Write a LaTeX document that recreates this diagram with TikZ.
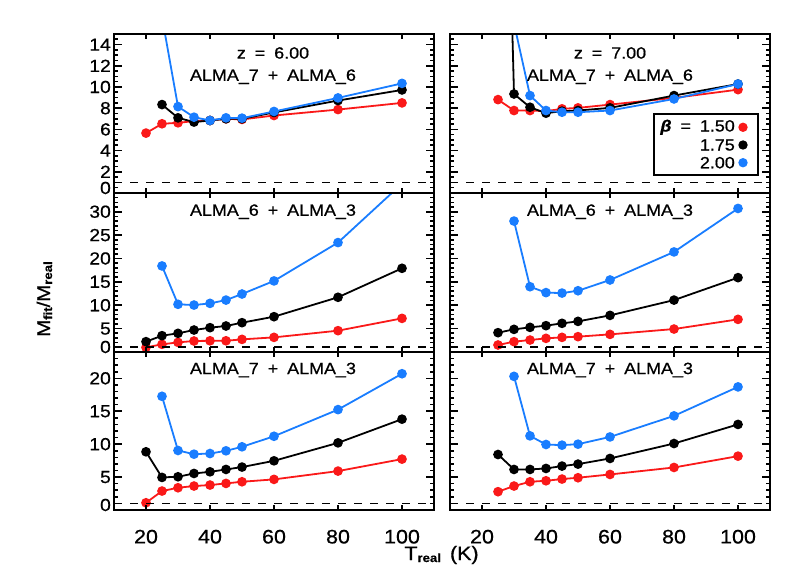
\documentclass[tikz,border=0pt]{standalone}
\usepackage{fontspec}
\setmainfont{Liberation Sans}
\newfontfamily\idlfont[FakeStretch=1.1,WordSpace=1.8,FakeBold=0.7]{Liberation Sans}

\definecolor{idlred}{RGB}{250,25,25}
\definecolor{idlblue}{RGB}{25,125,255}

\newcommand{\sublow}[1]{\raisebox{-2pt}{\fontsize{12}{12}\selectfont\bfseries #1}}

% frame, ticks and unity line of one panel: ymax, major list, minor step
\newcommand{\panelaxes}[3]{%
  \foreach \t in {20,40,...,100} {
    \draw[tick] (\t,0) -- ++(0,5pt);
    \draw[tick] (\t,#1) -- ++(0,-5pt);
  }
  \foreach \v in {0,#3,...,#1} {
    \draw[tick] (10,\v) -- ++(4pt,0);
    \draw[tick] (110,\v) -- ++(-4pt,0);
  }
  \foreach \v in {#2} {
    \draw[tick] (10,\v) -- ++(8pt,0);
    \draw[tick] (110,\v) -- ++(-8pt,0);
  }
  \draw[unity] (10,1) -- (110,1);
  \draw[frame] (10,0) rectangle (110,#1);
}

\tikzset{
  frame/.style={line width=2.8pt},
  tick/.style={line width=1.6pt},
  unity/.style={line width=1.7pt, dash pattern=on 8pt off 8pt},
  fit/.style={line width=1.8pt, mark=*, mark size=3.9pt},
  lbl/.style={font=\idlfont\fontsize{16.3}{18}\selectfont, inner sep=0pt},
  ynum/.style={font=\idlfont\fontsize{17.5}{18}\selectfont, anchor=east, inner sep=0pt, xshift=-3pt},
  xnum/.style={font=\idlfont\fontsize{19.5}{20}\selectfont, inner sep=0pt, yshift=-26.7pt},
  dotmark/.style={circle, inner sep=0pt, minimum size=9.4pt},
}

\begin{document}
\begin{tikzpicture}[x=1pt,y=1pt]
\useasboundingbox (0,0) rectangle (810,578);

% top left, z = 6
\begin{scope}[shift={(82pt,385pt)}, x=3.2pt, y=10.6pt]
  \begin{scope}
    \clip (10,0) rectangle (110,15);
    \draw[fit, idlred] plot coordinates {(20,5.65) (25,6.53) (30,6.62) (35,6.78) (40,6.84) (45,7.0) (50,6.94) (60,7.31) (80,7.87) (100,8.5)};
    \draw[fit, black] plot coordinates {(25,8.34) (30,7.09) (35,6.69) (40,6.84) (45,7.0) (50,7.0) (60,7.6) (80,8.72) (100,9.72)};
    \draw[fit, idlblue] plot coordinates {(25,16.6) (30,8.15) (35,7.15) (40,6.84) (45,7.09) (50,7.06) (60,7.69) (80,8.97) (100,10.34)};
  \end{scope}
  \panelaxes{15}{0,2,...,14}{0.5}
  \foreach \v in {2,4,...,14} \node[ynum] (tl\v) at (10,\v) {\v};
  \node[ynum, yshift=5pt] (tl0) at (10,0) {0};
\end{scope}

% top right, z = 7
\begin{scope}[shift={(418pt,385pt)}, x=3.2pt, y=10.6pt]
  \begin{scope}
    \clip (10,0) rectangle (110,15);
    \draw[fit, idlred] plot coordinates {(25,8.81) (30,7.78) (35,7.78) (40,7.72) (45,7.94) (50,8.03) (60,8.34) (80,8.97) (100,9.75)};
    \draw[fit, black] plot coordinates {(25,66) (30,9.34) (35,8.09) (40,7.53) (45,7.72) (50,7.78) (60,8.03) (80,9.19) (100,10.28)};
    \draw[fit, idlblue] plot coordinates {(30,16) (35,9.19) (40,7.78) (45,7.62) (50,7.62) (60,7.78) (80,8.87) (100,10.28)};
  \end{scope}
  \panelaxes{15}{0,2,...,14}{0.5}
\end{scope}

% middle left
\begin{scope}[shift={(82pt,226pt)}, x=3.2pt, y=4.676pt]
  \begin{scope}
    \clip (10,0) rectangle (110,34);
    \draw[fit, idlred] plot coordinates {(20,0.99) (25,1.64) (30,2.06) (35,2.35) (40,2.4) (45,2.4) (50,2.7) (60,3.13) (80,4.56) (100,7.19)};
    \draw[fit, black] plot coordinates {(20,2.21) (25,3.49) (30,3.99) (35,4.7) (40,5.2) (45,5.56) (50,6.27) (60,7.55) (80,11.7) (100,17.9)};
    \draw[fit, idlblue] plot coordinates {(25,18.4) (30,10.2) (35,10.04) (40,10.4) (45,11.1) (50,12.4) (60,15.2) (80,23.4) (100,36)};
  \end{scope}
  \panelaxes{34}{0,5,...,30}{1}
  \foreach \v in {5,10,...,30} \node[ynum] (ml\v) at (10,\v) {\v};
  \node[ynum, yshift=5pt] (ml0) at (10,0) {0};
\end{scope}

% middle right
\begin{scope}[shift={(418pt,226pt)}, x=3.2pt, y=4.676pt]
  \begin{scope}
    \clip (10,0) rectangle (110,34);
    \draw[fit, idlred] plot coordinates {(25,1.5) (30,2.21) (35,2.56) (40,2.92) (45,3.13) (50,3.28) (60,3.77) (80,4.91) (100,6.98)};
    \draw[fit, black] plot coordinates {(25,4.13) (30,4.84) (35,5.27) (40,5.63) (45,6.13) (50,6.55) (60,7.83) (80,11.1) (100,15.9)};
    \draw[fit, idlblue] plot coordinates {(30,28.0) (35,13.96) (40,12.7) (45,12.6) (50,13.1) (60,15.4) (80,21.4) (100,30.7)};
  \end{scope}
  \panelaxes{34}{0,5,...,30}{1}
\end{scope}

% bottom left
\begin{scope}[shift={(82pt,68pt)}, x=3.2pt, y=6.583pt]
  \begin{scope}
    \clip (10,0) rectangle (110,24);
    \draw[fit, idlred] plot coordinates {(20,1.1) (25,2.88) (30,3.38) (35,3.64) (40,3.79) (45,4.04) (50,4.29) (60,4.65) (80,5.91) (100,7.73)};
    \draw[fit, black] plot coordinates {(20,8.84) (25,4.95) (30,5.05) (35,5.55) (40,5.8) (45,6.16) (50,6.52) (60,7.47) (80,10.2) (100,13.8)};
    \draw[fit, idlblue] plot coordinates {(25,17.27) (30,9.04) (35,8.48) (40,8.58) (45,8.99) (50,9.6) (60,11.2) (80,15.25) (100,20.7)};
  \end{scope}
  \panelaxes{24}{0,5,...,20}{1}
  \foreach \v in {5,10,...,20} \node[ynum] (bl\v) at (10,\v) {\v};
  \node[ynum, yshift=5pt] (bl0) at (10,0) {0};
  \foreach \t in {20,40,...,100} \node[xnum] (blx\t) at (\t,0) {\t};
\end{scope}

% bottom right
\begin{scope}[shift={(418pt,68pt)}, x=3.2pt, y=6.583pt]
  \begin{scope}
    \clip (10,0) rectangle (110,24);
    \draw[fit, idlred] plot coordinates {(25,2.78) (30,3.64) (35,4.29) (40,4.44) (45,4.7) (50,4.9) (60,5.4) (80,6.46) (100,8.18)};
    \draw[fit, black] plot coordinates {(25,8.43) (30,6.16) (35,6.16) (40,6.31) (45,6.67) (50,6.97) (60,7.83) (80,10.1) (100,13.0)};
    \draw[fit, idlblue] plot coordinates {(30,20.3) (35,11.26) (40,9.95) (45,9.85) (50,10.0) (60,11.1) (80,14.3) (100,18.7)};
  \end{scope}
  \panelaxes{24}{0,5,...,20}{1}
  \foreach \t in {20,40,...,100} \node[xnum] (brx\t) at (\t,0) {\t};
\end{scope}

% panel titles
\node[lbl] (ztl) at (273,525) {z = 6.00};
\node[lbl] (btl) at (273,501.3) {ALMA\_7 + ALMA\_6};
\node[lbl] (ztr) at (610,525) {z = 7.00};
\node[lbl] (btr) at (610,501.3) {ALMA\_7 + ALMA\_6};
\node[lbl] (bml) at (273,366.3) {ALMA\_6 + ALMA\_3};
\node[lbl] (bmr) at (610,366.3) {ALMA\_6 + ALMA\_3};
\node[lbl] (bbl) at (273,208) {ALMA\_7 + ALMA\_3};
\node[lbl] (bbr) at (610,208) {ALMA\_7 + ALMA\_3};

% legend
\node[draw, line width=1.6pt, minimum width=104pt, minimum height=61pt] (legend) at (706,433.5) {};
\node[lbl, anchor=east] (b150) at (735,450.7) {{\bfseries\itshape β} = 1.50};
\node[lbl, anchor=east] (b175) at (735,433) {1.75};
\node[lbl, anchor=east] (b200) at (735,415.3) {2.00};
\node[dotmark, fill=idlred] (d150) at (743,450.7) {};
\node[dotmark, fill=black] (d175) at (743,433) {};
\node[dotmark, fill=idlblue] (d200) at (743,415.3) {};

% axis titles
\node[font=\idlfont\fontsize{19.5}{20}\selectfont, anchor=base, inner sep=0pt] (xtitle) at (441.5,18) {T\sublow{real}\hspace{9pt}(K)};
\node[font=\idlfont\fontsize{18.5}{20}\selectfont, anchor=base, rotate=90, inner sep=0pt] (ytitle) at (50,279) {M\sublow{fit}/M\sublow{real}};
\end{tikzpicture}
\end{document}
